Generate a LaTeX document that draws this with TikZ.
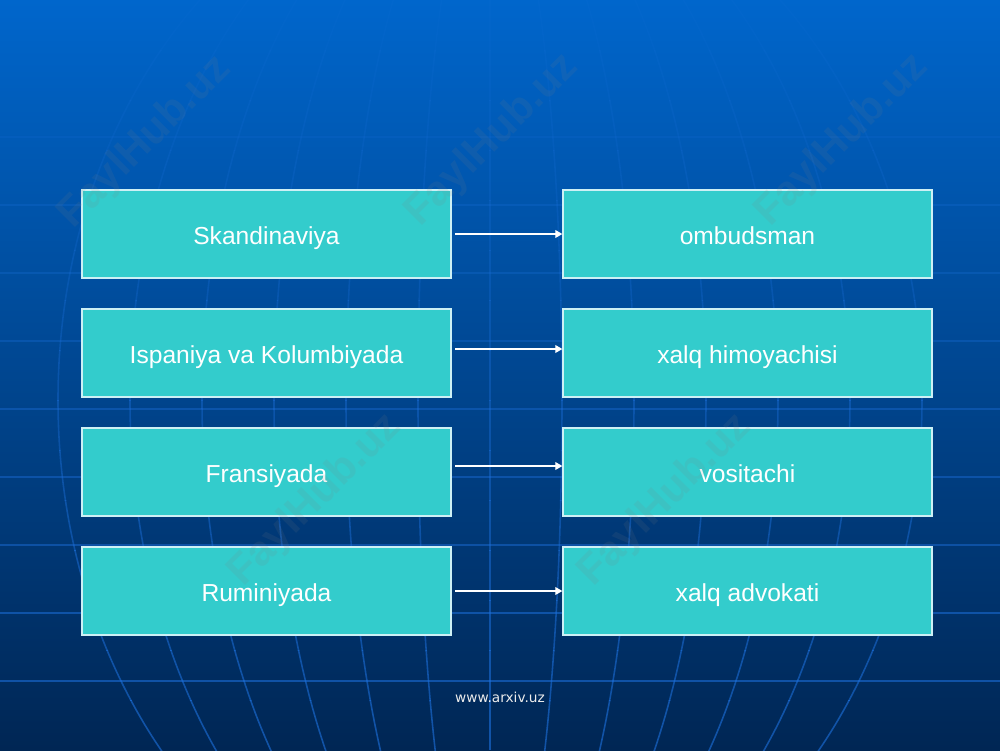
\documentclass[tikz,border=0pt]{standalone}
\usepackage{fontspec}
\setmainfont{Liberation Sans}
\newfontfamily\footfont{DejaVu Sans}
\usepackage{tikz}
\usetikzlibrary{positioning, arrows.meta}

\definecolor{bgtop}{RGB}{0,102,204}
\definecolor{bgmid}{RGB}{0,70,146}
\definecolor{bgbottom}{RGB}{0,38,84}
\definecolor{gridblue}{RGB}{30,115,225}
\definecolor{boxteal}{RGB}{51,204,204}
\definecolor{boxedge}{RGB}{205,240,245}

\begin{document}
\begin{tikzpicture}[>={Triangle[length=4pt,width=4.5pt]},node distance=2.38cm]
  \tikzstyle{box}=[rectangle,fill=boxteal,draw=boxedge,line width=0.8pt,minimum width=7.38cm,minimum height=1.76cm,text height=12.5pt,text depth=1pt,text=white,font=\fontsize{14}{17}\selectfont]
  \tikzstyle{conn}=[->,draw=white,line width=0.6pt,shorten <=2pt]
  \tikzstyle{gridline}=[gridblue,line width=0.9pt]
  \tikzstyle{wmark}=[text=gray,opacity=0.12,rotate=45,font=\bfseries\fontsize{24}{28}\selectfont]

  % background with globe grid, fading out towards the top
  \useasboundingbox (0,0) rectangle (20,-15);
  \shade[top color=bgtop, middle color=bgmid, bottom color=bgbottom] (0,0) rectangle (20,-15);
  \foreach \b in {0,...,14} {
    \pgfmathsetmacro\op{0.08+0.036*\b}
    \begin{scope}[opacity=\op]
      \clip (0,-\b) rectangle (20,-\b-1);
      \foreach \k in {0,...,8}
        \draw[gridline] (0,-2.74-1.36*\k) -- (20,-2.74-1.36*\k);
      \draw[gridline] (9.8,0) -- (9.8,-15);
      \foreach \k in {1,...,6}
        \draw[gridline] (9.8,-8) ellipse ({1.44*\k} and 10.8);
    \end{scope}
  }

  \node[box] (L1) at (5.33,-4.68) {Skandinaviya};
  \node[box] (L2) [below of=L1] {Ispaniya va Kolumbiyada};
  \node[box] (L3) [below of=L2] {Fransiyada};
  \node[box] (L4) [below of=L3] {Ruminiyada};
  \node[box] (R1) [right of=L1, node distance=9.62cm] {ombudsman};
  \node[box] (R2) [right of=L2, node distance=9.62cm] {xalq himoyachisi};
  \node[box] (R3) [right of=L3, node distance=9.62cm] {vositachi};
  \node[box] (R4) [right of=L4, node distance=9.62cm] {xalq advokati};

  \path (L1) edge[conn] (R1);
  \draw[conn] ([yshift=0.08cm]L2.east) -- ([yshift=0.08cm]R2.west);
  \draw[conn] ([yshift=0.12cm]L3.east) -- ([yshift=0.12cm]R3.west);
  \path (L4) edge[conn] (R4);

  % watermarks
  \node[wmark] (wm1) at (2.9,-2.84) {FaylHub.uz};
  \node[wmark] (wm2) at (9.84,-2.8) {FaylHub.uz};
  \node[wmark] (wm3) at (16.84,-2.8) {FaylHub.uz};
  \node[wmark] (wm4) at (6.3,-10.0) {FaylHub.uz};
  \node[wmark] (wm5) at (13.3,-10.0) {FaylHub.uz};

  \node[text=white!85!gray, font=\footfont\fontsize{7.8}{9}\selectfont] (footer) at (10,-13.94) {www.arxiv.uz};
\end{tikzpicture}
\end{document}
